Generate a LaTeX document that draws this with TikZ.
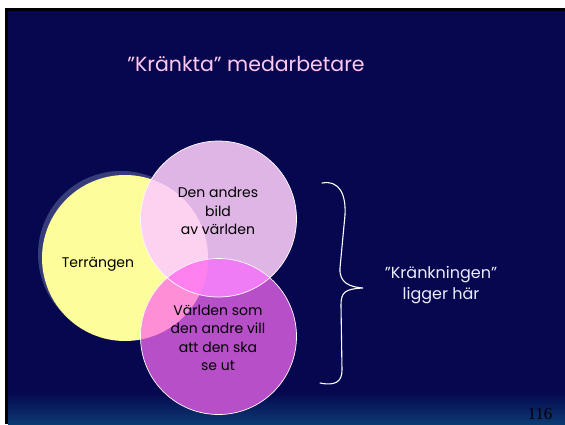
\documentclass[tikz,border=0pt]{standalone}
\usepackage{fontspec}
\setmainfont{Poppins}
\newfontfamily\numfont{Liberation Serif}
\definecolor{navy}{HTML}{06074E}
\definecolor{navybot}{HTML}{0B3A72}
\definecolor{yel}{HTML}{FDFD9A}
\definecolor{pnk}{HTML}{DFB5E6}
\definecolor{yp}{HTML}{FDD1F0}
\definecolor{pur}{HTML}{B74FC8}
\definecolor{upc}{HTML}{F07CF5}
\definecolor{uyc}{HTML}{FE8FD6}
\definecolor{upy}{HTML}{FF80EE}
\definecolor{glow}{HTML}{363B7A}
\definecolor{titlec}{HTML}{FFC8F0}
\definecolor{lightc}{HTML}{ECECFF}
\begin{document}
\begin{tikzpicture}[x=1pt,y=-1pt,
  circtext/.style={font=\fontsize{14}{18.5}\selectfont, text=black, align=center},
  edge/.style={draw=white, line width=0.7pt}]
\useasboundingbox (0,0) rectangle (565,424);
% background
\fill[white] (0,0) rectangle (565,424);
\fill[black] (5,8) rectangle (565,424);
\fill[navy] (8,11) rectangle (565,424);
\shade[top color=navy, bottom color=navybot] (8,392) rectangle (565,424);
% centres
\coordinate (Y) at (125,258);
\coordinate (P) at (218.5,219);
\coordinate (U) at (218.5,336.5);
% glow
\fill[glow] (121,254) circle (83);
% circles
\fill[yel] (Y) circle (83);
\fill[pnk] (P) circle (78);
\begin{scope}\clip (Y) circle (83); \fill[yp] (P) circle (78);\end{scope}
\fill[pur] (U) circle (78);
\begin{scope}\clip (U) circle (78); \fill[upc] (P) circle (78);\end{scope}
\begin{scope}\clip (U) circle (78); \fill[uyc] (Y) circle (83);\end{scope}
\begin{scope}\clip (U) circle (78); \clip (Y) circle (83); \fill[upy] (P) circle (78);\end{scope}
\draw[edge] (P) circle (78);
\draw[edge] (U) circle (78);
% texts
\node[font=\fontsize{20.5}{24}\selectfont, text=titlec] (title) at (246,64) {"Kränkta" medarbetare};
\node[circtext] (terr) at (98,264) {Terrängen};
\node[circtext] (den) at (218,211) {Den andres\\bild\\av världen};
\node[circtext] (varld) at (218,338) {Världen som\\den andre vill\\att den ska\\se ut};
\node[font=\fontsize{16}{21}\selectfont, text=lightc, align=center] (krank) at (441,285) {"Kränkningen"\\ligger här};
\node[font=\numfont\fontsize{17}{18}\selectfont, text=black] (num) at (540,414) {116};
% brace
\coordinate (bt) at (322,183);
\coordinate (bb) at (320,383);
\coordinate (tip) at (363,288);
\draw[white, line width=1.1pt, line cap=round]
  (bt) .. controls (340,180) and (346,195) .. (345,215) -- (340,268)
  .. controls (339,283) and (350,287) .. (tip)
  .. controls (345,289) and (341,292) .. (341,305) -- (342,370)
  .. controls (342,382) and (335,386) .. (bb);
\end{tikzpicture}
\end{document}
